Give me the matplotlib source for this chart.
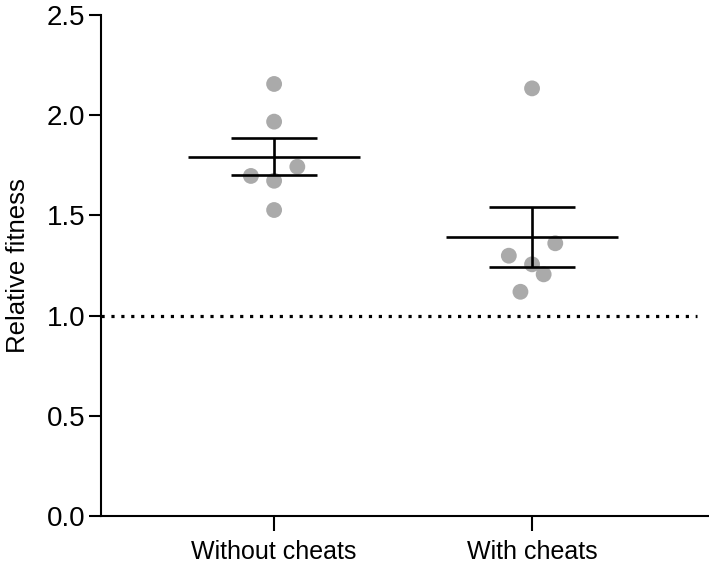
# Relative fitness with and without cheats

import numpy as np
import matplotlib.pyplot as plt

plt.rcParams['font.family'] = ['Liberation Sans', 'DejaVu Sans']

# Data
groups = ['Without cheats', 'With cheats']
pos = [0, 1]
offsets_without = [0.0, 0.0, 0.09, -0.09, 0.0, 0.0]
values_without = [2.156, 1.968, 1.743, 1.697, 1.673, 1.527]
offsets_with = [0.0, 0.09, -0.09, 0.0, 0.045, -0.045]
values_with = [2.134, 1.361, 1.299, 1.256, 1.206, 1.119]
means = [1.793, 1.394]
err_low = [1.700, 1.243]
err_high = [1.888, 1.543]

fig = plt.figure(figsize=(7.09, 5.67), dpi=100)
ax = fig.add_axes([0.1425, 0.0899, 0.8575, 0.8836])

# dotted reference line at 1
ax.plot([-0.67, 1.64], [1.0, 1.0], color='black', lw=2.3,
        linestyle=(0, (1, 2.1)), zorder=1)

# individual points
ax.scatter(np.array(offsets_without) + pos[0], values_without, s=130,
           color='#aaaaaa', edgecolors='none', zorder=2)
ax.scatter(np.array(offsets_with) + pos[1], values_with, s=130,
           color='#aaaaaa', edgecolors='none', zorder=2)

# mean and error bars
for i in range(len(groups)):
    x = pos[i]
    ax.hlines(means[i], x - 0.332, x + 0.332, color='black', lw=1.9, zorder=3)
    ax.hlines([err_low[i], err_high[i]], x - 0.168, x + 0.168, color='black', lw=1.9, zorder=3)
    ax.vlines(x, err_low[i], err_high[i], color='black', lw=1.9, zorder=3)

ax.set_xlim(-0.671, 1.686)
ax.set_ylim(0, 2.5)
ax.set_xticks(pos)
ax.set_xticklabels(groups)
ax.set_yticks([0.0, 0.5, 1.0, 1.5, 2.0, 2.5])
ax.set_yticklabels(['0.0', '0.5', '1.0', '1.5', '2.0', '2.5'])
ax.set_ylabel('Relative fitness', fontsize=18.5, labelpad=11.5)

ax.spines['top'].set_visible(False)
ax.spines['right'].set_visible(False)
for s in ['left', 'bottom']:
    ax.spines[s].set_linewidth(1.5)
ax.tick_params(axis='y', length=8.5, width=1.5, labelsize=20, pad=3)
ax.tick_params(axis='x', length=11, width=1.5, labelsize=18, pad=6.5)

fig.savefig('out.png', dpi=100)
